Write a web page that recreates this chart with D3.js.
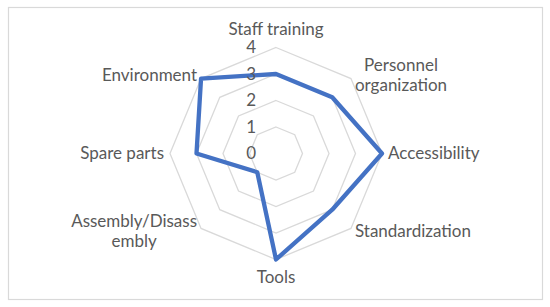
<!DOCTYPE html>
<html>
<head>
<meta charset="utf-8">
<script src="https://cdn.jsdelivr.net/npm/d3@7"></script>
<style>
  body { margin: 0; background: #fff; }
  text { font-family: Lato, "Open Sans", sans-serif; fill: #595959; }
</style>
</head>
<body>
<div id="chart"></div>
<script>
// data
const categories = ["Staff training", "Personnel organization", "Accessibility", "Standardization",
  "Tools", "Assembly/Disassembly", "Spare parts", "Environment"];
// how the labels wrap in the picture
const labelLines = [["Staff training"], ["Personnel", "organization"], ["Accessibility"], ["Standardization"],
  ["Tools"], ["Assembly/Disass", "embly"], ["Spare parts"], ["Environment"]];
const values = [3, 3, 4, 3, 4, 1, 3, 4];
const ticks = [0, 1, 2, 3, 4];

//dimensions
const w = 550, h = 307;
const cx = 276, cy = 153.5, R = 106;
const fontSize = 17;

const svg = d3.select("#chart")
    .append("svg")
    .attr("width", w)
    .attr("height", h);

// outer border
svg.append("rect")
    .attr("x", 8.5).attr("y", 7.5)
    .attr("width", 534).attr("height", 292)
    .attr("fill", "none")
    .attr("stroke", "#d9d9d9")
    .attr("stroke-width", 1.2);

const graph = svg.append("g")
    .attr("transform", `translate(${cx},${cy})`);

//scales
const rScale = d3.scaleLinear().domain([0, 4]).range([0, R]);
const angle = i => i * 2 * Math.PI / categories.length;

const radial = d3.lineRadial()
    .angle((d, i) => angle(i))
    .radius(d => rScale(d))
    .curve(d3.curveLinearClosed);

// grid octagons
graph.append("g").attr("class", "grid")
    .selectAll("path")
    .data(ticks.filter(t => t > 0))
    .enter()
    .append("path")
    .attr("d", t => radial(categories.map(() => t)))
    .attr("fill", "none")
    .attr("stroke", "#d9d9d9")
    .attr("stroke-width", 1.3);

// the series
graph.append("path")
    .attr("d", radial(values))
    .attr("fill", "none")
    .attr("stroke", "#4472c4")
    .attr("stroke-width", 4.3)
    .attr("stroke-linejoin", "round");

// tick labels
graph.append("g").attr("class", "ticks")
    .selectAll("text")
    .data(ticks)
    .enter()
    .append("text")
    .text(d => d)
    .attr("x", -20)
    .attr("y", d => -rScale(d))
    .attr("dy", "0.35em")
    .attr("text-anchor", "end")
    .attr("font-size", fontSize);

// category labels
const lineH = 20;
const labels = graph.append("g").attr("class", "labels")
    .selectAll("text")
    .data(labelLines)
    .enter()
    .append("text")
    .attr("font-size", fontSize)
    .attr("text-anchor", "middle");

labels.each(function(lines, i) {
    const t = d3.select(this);
    lines.forEach((l, j) => {
        t.append("tspan").text(l).attr("x", 0)
            .attr("y", (j - (lines.length - 1) / 2) * lineH)
            .attr("dy", "0.35em");
    });
    // block width
    let bw = 0;
    t.selectAll("tspan").each(function() { bw = Math.max(bw, this.getComputedTextLength()); });
    const a = angle(i);
    const vx = Math.sin(a) * R, vy = -Math.cos(a) * R;
    let x = vx, y = vy;
    const sx = Math.round(Math.sin(a) * 1000) / 1000;
    const sy = Math.round(-Math.cos(a) * 1000) / 1000;
    if (sx === 0) {
        y = vy + sy * 18;
    } else if (sy === 0) {
        x = vx + sx * (6 + bw / 2);
    } else {
        x = vx + sx / Math.abs(sx) * (4 + bw / 2);
        y = vy + (sy < 0 ? -3 : 3);
    }
    t.attr("transform", `translate(${x},${y})`);
});
</script>
</body>
</html>
